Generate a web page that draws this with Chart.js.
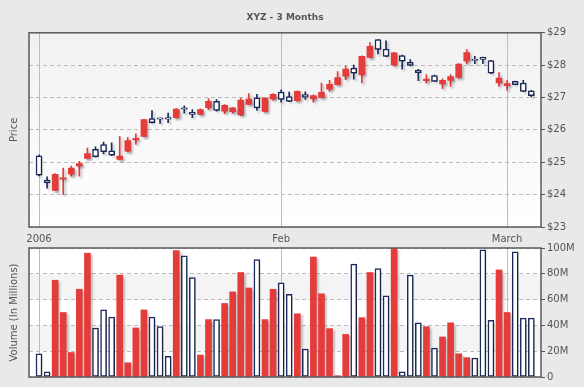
<!DOCTYPE html>
<html lang="en">
<head>
  <meta charset="UTF-8">
  <title>XYZ - 3 Months</title>
  <style>
    body {
      margin: 0;
      background-color: #e9e9e9;
    }
    #wrap {
      position: relative;
      width: 584px;
      height: 387px;
    }
    #priceChart { position: absolute; left: 0; top: 0; }
    #volumeChart { position: absolute; left: 0; top: 236px; }
  </style>
</head>
<body>
  <div id="wrap">
    <canvas id="priceChart" width="584" height="246"></canvas>
    <canvas id="volumeChart" width="584" height="151"></canvas>
  </div>

  <script src="https://cdn.jsdelivr.net/npm/chart.js"></script>
  <script>
    // daily OHLC, 62 sessions
    const opens  = [24.60, 24.36, 24.63, 24.52, 24.82, 24.96, 25.27, 25.17, 25.33, 25.22,
                    25.19, 25.67, 25.74, 26.32, 26.22, 26.33, 26.33, 26.64, 26.64, 26.48,
                    26.63, 26.88, 26.60, 26.76, 26.68, 26.92, 26.95, 26.68, 26.98, 27.10,
                    26.94, 26.88, 27.19, 27.01, 27.06, 27.16, 27.41, 27.62, 27.88, 27.75,
                    28.27, 28.58, 28.49, 28.27, 28.38, 28.12, 27.99, 27.77, 27.57, 27.50,
                    27.53, 27.65, 28.03, 28.39, 28.15, 28.18, 27.75, 27.60, 27.43, 27.40,
                    27.19, 27.06];
    const highs  = [25.22, 24.55, 24.65, 24.82, 24.88, 25.03, 25.44, 25.48, 25.62, 25.60,
                    25.80, 25.77, 25.88, 26.33, 26.60, 26.37, 26.52, 26.66, 26.74, 26.63,
                    26.65, 26.97, 26.94, 26.78, 26.70, 26.98, 27.12, 27.10, 27.00, 27.12,
                    27.24, 27.17, 27.21, 27.18, 27.08, 27.45, 27.53, 27.80, 27.97, 28.00,
                    28.29, 28.70, 28.80, 28.75, 28.40, 28.31, 28.17, 27.87, 27.71, 27.69,
                    27.58, 27.71, 28.05, 28.48, 28.27, 28.25, 28.15, 27.77, 27.53, 27.51,
                    27.53, 27.22];
    const lows   = [24.58, 24.20, 24.12, 24.00, 24.57, 24.57, 25.10, 25.16, 25.26, 25.20,
                    25.08, 25.33, 25.55, 25.79, 26.21, 26.20, 26.22, 26.36, 26.52, 26.38,
                    26.46, 26.63, 26.58, 26.50, 26.52, 26.44, 26.78, 26.60, 26.55, 26.92,
                    26.86, 26.87, 26.88, 26.94, 26.86, 26.99, 27.20, 27.39, 27.55, 27.57,
                    27.45, 28.23, 28.35, 28.26, 27.98, 27.88, 27.98, 27.52, 27.45, 27.49,
                    27.27, 27.34, 27.60, 28.04, 28.05, 28.05, 27.74, 27.34, 27.22, 27.39,
                    27.18, 27.02];
    const closes = [25.20, 24.45, 24.13, 24.48, 24.63, 24.88, 25.12, 25.40, 25.55, 25.35,
                    25.09, 25.34, 25.69, 25.80, 26.35, 26.37, 26.38, 26.38, 26.68, 26.54,
                    26.48, 26.69, 26.88, 26.58, 26.56, 26.46, 26.79, 26.99, 26.57, 26.95,
                    27.17, 27.03, 26.90, 27.09, 26.96, 27.00, 27.26, 27.40, 27.66, 27.91,
                    27.70, 28.24, 28.79, 28.50, 28.00, 28.30, 28.09, 27.84, 27.52, 27.68,
                    27.42, 27.53, 27.62, 28.13, 28.18, 28.24, 28.14, 27.45, 27.37, 27.50,
                    27.45, 27.21];
    // volume in millions
    const volumes = [18, 4, 75, 50, 19, 68, 96, 38, 52, 46.5,
                     79, 11, 38, 52, 46.5, 39, 16, 98, 94, 77,
                     17, 44.5, 44.5, 57, 66, 81, 69, 91, 44.5, 68,
                     73, 64, 49, 21.7, 93, 64.5, 37.5, 1, 33, 87.5,
                     46, 81, 84, 63, 100, 4, 79, 42, 39, 22.5,
                     31, 42, 18, 15, 14.7, 98.5, 44, 83, 50, 97,
                     45.7, 45.7];

    const dateTickIdx = [0, 30, 58];
    const dateTickLabels = ['2006', 'Feb', 'March'];
    const priceTicks = [23, 24, 25, 26, 27, 28, 29];
    const volumeTicks = [0, 20, 40, 60, 80, 100];

    const RED = '#e43b3b';
    const NAVY = '#1d2b5c';
    const TEXT = '#555555';

    Chart.defaults.font.family = '"DejaVu Sans", Verdana, sans-serif';
    Chart.defaults.font.size = 10;
    Chart.defaults.color = TEXT;

    const isUp = opens.map((o, i) => closes[i] >= o);

    // plot background, border and bar shadow
    const plotBox = {
      id: 'plotBox',
      beforeDraw(chart, args, opts) {
        const { ctx, chartArea: a } = chart;
        ctx.save();
        if (opts.gradient) {
          const g = ctx.createLinearGradient(0, a.top, 0, a.bottom);
          g.addColorStop(0, '#f1f1f1');
          g.addColorStop(1, '#ffffff');
          ctx.fillStyle = g;
        } else {
          ctx.fillStyle = '#ffffff';
        }
        ctx.fillRect(a.left, a.top, a.width, a.height);
        if (opts.bands) {
          const y = chart.scales.y;
          ctx.fillStyle = '#f4f4f4';
          opts.bands.forEach(b => {
            const y1 = y.getPixelForValue(b[1]);
            const y0 = y.getPixelForValue(b[0]);
            ctx.fillRect(a.left, y1, a.width, y0 - y1);
          });
        }
        ctx.restore();
      },
      beforeDatasetsDraw(chart) {
        const ctx = chart.ctx;
        ctx.save();
        ctx.shadowColor = 'rgba(0,0,0,0.22)';
        ctx.shadowOffsetX = 2;
        ctx.shadowOffsetY = 2;
        ctx.shadowBlur = 2;
      },
      afterDatasetsDraw(chart) {
        chart.ctx.restore();
      },
      afterDraw(chart) {
        const { ctx, chartArea: a } = chart;
        ctx.save();
        ctx.strokeStyle = '#5a5a5a';
        ctx.lineWidth = 1.5;
        ctx.strokeRect(a.left, a.top, a.width, a.height);
        ctx.restore();
      }
    };

    const xAxis = (showLabels) => ({
      type: 'linear',
      min: -1.24,
      max: 62.2,
      bounds: 'data',
      offset: false,
      grid: { color: '#bdbdbd', drawTicks: false, offset: false },
      border: { display: false },
      afterBuildTicks: (s) => { s.ticks = dateTickIdx.map(v => ({ value: v })); },
      afterFit: (s) => { s.height = showLabels ? 19 : 0; },
      ticks: {
        display: showLabels,
        autoSkip: false,
        maxRotation: 0,
        padding: 6,
        callback: (v) => dateTickLabels[dateTickIdx.indexOf(v)]
      }
    });

    const titleAxis = (text) => ({
      position: 'left',
      grid: { display: false },
      border: { display: false },
      ticks: { display: false },
      title: { display: true, text: text, color: TEXT, font: { size: 10 }, padding: { top: 8, bottom: 0 } },
      afterFit: (s) => { s.width = 29; }
    });

    const valueAxis = (min, max, ticksArr, fmt) => ({
      position: 'right',
      min: min,
      max: max,
      afterBuildTicks: (s) => { s.ticks = ticksArr.map(v => ({ value: v })); },
      afterFit: (s) => { s.width = 43; },
      grid: { color: '#bcbcbc', tickColor: '#5a5a5a', tickLength: 4, tickBorderDash: [] },
      border: { display: false, dash: [4, 3] },
      ticks: { padding: 2, color: TEXT, callback: fmt }
    });

    // candlestick: thin wick bars behind floating body bars
    new Chart(document.getElementById('priceChart'), {
      type: 'bar',
      data: {
        datasets: [
          {
            label: 'Body',
            data: opens.map((o, i) => ({ x: i, y: [Math.min(o, closes[i]), Math.max(o, closes[i])] })),
            yAxisID: 'y',
            backgroundColor: isUp.map(u => u ? '#ffffff' : RED),
            borderColor: isUp.map(u => u ? NAVY : RED),
            borderWidth: isUp.map(u => u ? 1.5 : 0),
            borderSkipped: false,
            barThickness: 6,
            grouped: false,
            order: 1
          },
          {
            label: 'Wick',
            data: highs.map((h, i) => ({ x: i, y: [lows[i], h] })),
            yAxisID: 'y',
            backgroundColor: isUp.map(u => u ? NAVY : RED),
            borderWidth: 0,
            barThickness: 1,
            grouped: false,
            order: 2
          }
        ]
      },
      options: {
        responsive: false,
        animation: false,
        layout: { padding: 0 },
        plugins: {
          legend: { display: false },
          tooltip: { enabled: false },
          title: {
            display: true,
            text: 'XYZ - 3 Months',
            fullSize: false,
            color: TEXT,
            font: { size: 9, weight: 'bold' },
            padding: { top: 12, bottom: 10 }
          },
          plotBox: { gradient: true }
        },
        scales: {
          x: xAxis(true),
          yt: titleAxis('Price'),
          y: valueAxis(23, 29, priceTicks, (v) => '$' + v)
        }
      },
      plugins: [plotBox]
    });

    new Chart(document.getElementById('volumeChart'), {
      type: 'bar',
      data: {
        datasets: [{
          label: 'Volume',
          data: volumes.map((v, i) => ({ x: i, y: v })),
          yAxisID: 'y',
          backgroundColor: isUp.map(u => u ? '#ffffff' : RED),
          borderColor: isUp.map(u => u ? NAVY : RED),
          borderWidth: isUp.map(u => u ? 1.5 : 0),
          borderSkipped: false,
          barThickness: 6,
          grouped: false
        }]
      },
      options: {
        responsive: false,
        animation: false,
        layout: { padding: { top: 12, bottom: 10 } },
        plugins: {
          legend: { display: false },
          tooltip: { enabled: false },
          plotBox: { bands: [[20, 40], [60, 80]] }
        },
        scales: {
          x: xAxis(false),
          yt: titleAxis('Volume (In Millions)'),
          y: valueAxis(0, 100, volumeTicks, (v) => v === 0 ? '0' : v + 'M')
        }
      },
      plugins: [plotBox]
    });
  </script>
</body>
</html>
